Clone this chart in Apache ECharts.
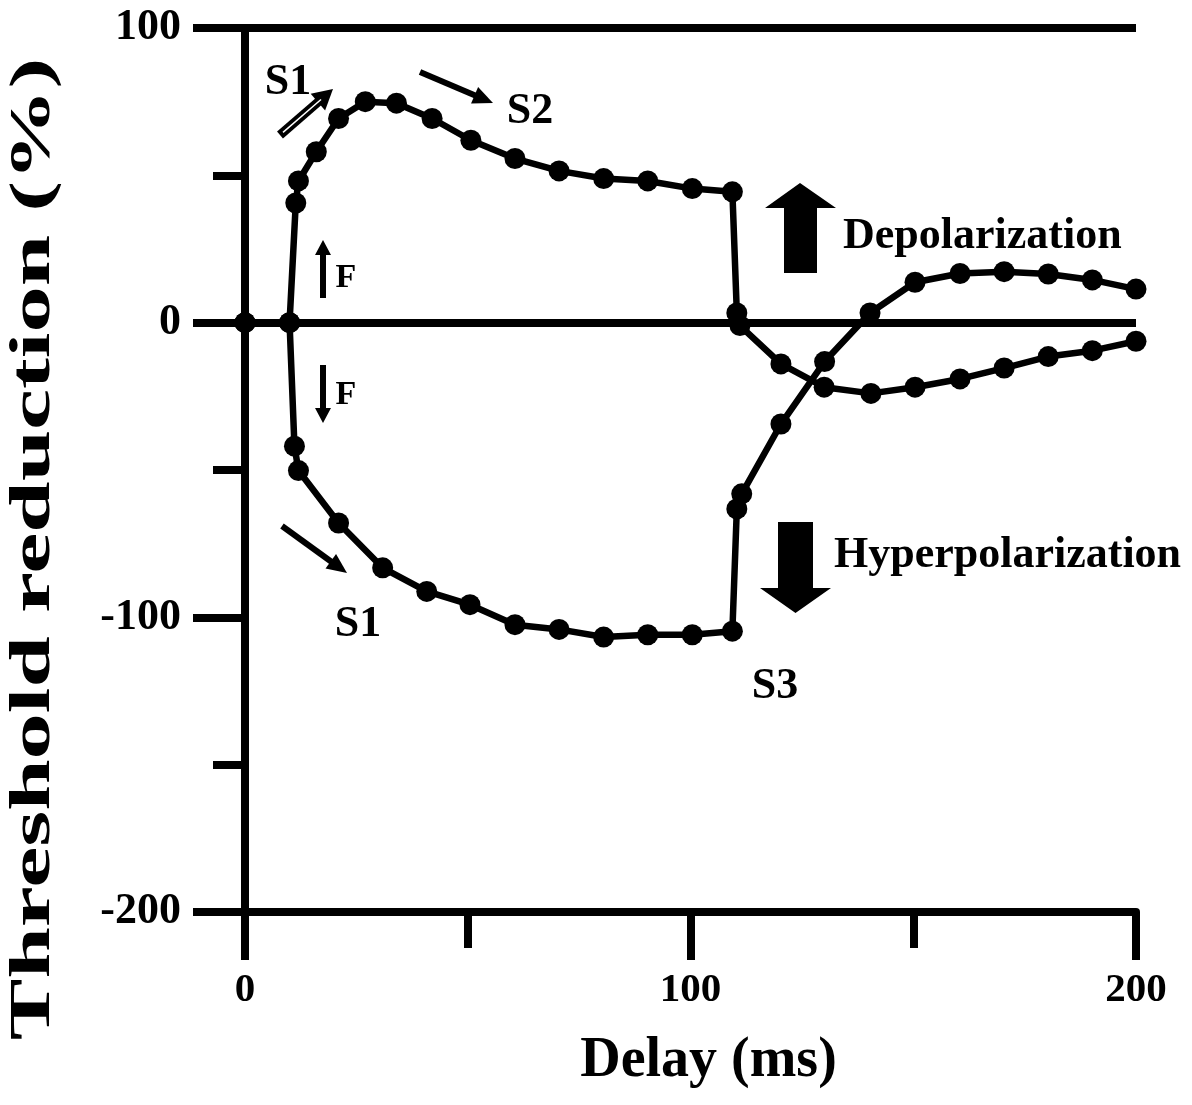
<!DOCTYPE html>
<html lang="en">
<head>
    <meta charset="UTF-8">
    <title>Threshold reduction</title>
    <script src="https://cdn.jsdelivr.net/npm/echarts@6/dist/echarts.min.js"></script>
    <style>
        html, body { margin: 0; padding: 0; background: #fff; }
    </style>
</head>
<body>
    <div id="box" style="width: 1192px; height: 1105px;"></div>
</body>
<script>
    // delay (ms) and threshold reduction (%)
    var upDelay = [0, 10, 11.4, 12, 16, 21, 27, 34, 42, 50.7, 60.6, 70.5, 80.5, 90.4, 100.4, 109.4,
        110.4, 111.1, 120.3, 130, 140.5, 150.4, 160.5, 170.4, 180.3, 190.2, 200]
    var upValue = [0, 0, 40.6, 48.1, 58, 69.3, 75, 74.5, 69.3, 61.9, 55.7, 51.5, 48.9, 48.1, 45.5, 44.4,
        3.3, -1, -14, -21.9, -24, -21.9, -19.1, -15.4, -11.5, -9.5, -6.3]
    var downDelay = [0, 10, 11.1, 12, 21, 30.9, 40.8, 50.5, 60.6, 70.5, 80.5, 90.4, 100.4, 109.4,
        110.4, 111.5, 120.3, 130.1, 140.3, 150.4, 160.5, 170.4, 180.3, 190.2, 200]
    var downValue = [0, 0, -41.9, -50.2, -68, -83.2, -91.2, -95.7, -102.5, -104.1, -106.7, -105.9, -105.9, -104.7,
        -63.2, -58.1, -34.4, -13.2, 3.3, 13.7, 16.7, 17.3, 16.5, 14.5, 11.4]
    var refLines = [100, 0]

    var font = '"Liberation Serif", "Times New Roman", serif'

    function pairs(xs, ys) {
        var out = []
        for (var i = 0; i < xs.length; i++) out.push([xs[i], ys[i]])
        return out
    }

    // thin arrow: shaft + triangular head
    function arrow(x1, y1, x2, y2, w, hl, hw) {
        var dx = x2 - x1, dy = y2 - y1
        var len = Math.sqrt(dx * dx + dy * dy)
        var ux = dx / len, uy = dy / len
        var nx = -uy, ny = ux
        var bx = x2 - ux * hl, by = y2 - uy * hl
        return [{
            type: 'line',
            shape: { x1: x1, y1: y1, x2: bx + ux * 2, y2: by + uy * 2 },
            style: { stroke: '#000', lineWidth: w }
        }, {
            type: 'polygon',
            shape: { points: [[x2, y2], [bx + nx * hw, by + ny * hw], [bx - nx * hw, by - ny * hw]] },
            style: { fill: '#000' }
        }]
    }

    function text(t, x, y, size, align) {
        return {
            type: 'text', x: x, y: y,
            style: {
                text: t, font: 'bold ' + size + 'px ' + font, fill: '#000',
                align: align || 'center', verticalAlign: 'middle'
            }
        }
    }

    // hollow arrow next to the upper S1
    var s1Hollow = arrow(280, 135, 333, 89, 9, 20, 11)
    s1Hollow.push({
        type: 'line',
        shape: { x1: 283, y1: 132.4, x2: 321, y2: 99.5 },
        style: { stroke: '#fff', lineWidth: 1.5 }
    })

    var shapes = []
        .concat(s1Hollow)
        .concat(arrow(420, 72, 493, 103, 6, 20, 9))
        .concat(arrow(282, 526, 347, 573, 6, 20, 9))
        .concat(arrow(323, 298, 323, 240, 6, 15, 8))
        .concat(arrow(323, 365, 323, 423, 6, 15, 8))
        .concat([{
            type: 'polygon',
            shape: { points: [[784, 273], [784, 208], [765, 208], [800, 183], [836, 208], [817, 208], [817, 273]] },
            style: { fill: '#000' }
        }, {
            type: 'polygon',
            shape: { points: [[778, 522], [813, 522], [813, 588], [831, 588], [795.5, 613], [760, 588], [778, 588]] },
            style: { fill: '#000' }
        }])
        .concat([
            text('S1', 288, 83, 44),
            text('S2', 530, 112, 44),
            text('S1', 358, 625, 44),
            text('S3', 775, 687, 44),
            text('F', 346, 278, 34),
            text('F', 346, 395, 34),
            text('Depolarization', 843, 237, 44, 'left'),
            text('Hyperpolarization', 834, 556, 44, 'left')
        ])

    // y-axis title, stretched along its baseline like the original
    shapes.push({
        type: 'text', x: 35, y: 549, rotation: Math.PI / 2, scaleX: 1.65,
        style: {
            text: 'Threshold reduction (%)', font: 'bold 56px ' + font, fill: '#000',
            align: 'center', verticalAlign: 'middle'
        }
    })

    var lineStyle = { color: '#000', width: 8 }

    var mEcharts = echarts.init(document.querySelector('#box'))
    var option = {
        animation: false,
        backgroundColor: '#fff',
        grid: { left: 245, right: 56, top: 28, bottom: 193 },
        xAxis: {
            type: 'value', min: 0, max: 200, interval: 100,
            name: 'Delay (ms)', nameLocation: 'middle', nameGap: 122,
            nameTextStyle: { fontFamily: font, fontWeight: 'bold', fontSize: 56, color: '#000', padding: [0, 0, 0, 36] },
            axisLine: { show: true, onZero: false, lineStyle: lineStyle },
            axisTick: { show: true, length: 48, lineStyle: lineStyle },
            minorTick: { show: true, splitNumber: 2, length: 36, lineStyle: lineStyle },
            splitLine: { show: false },
            axisLabel: { fontFamily: font, fontWeight: 'bold', fontSize: 41, color: '#000', margin: 58 }
        },
        yAxis: {
            type: 'value', min: -200, max: 100, interval: 100,
            axisLine: { show: true, onZero: false, lineStyle: lineStyle },
            axisTick: { show: true, length: 52, lineStyle: lineStyle },
            minorTick: { show: true, splitNumber: 2, length: 32, lineStyle: lineStyle },
            splitLine: { show: false },
            axisLabel: { fontFamily: font, fontWeight: 'bold', fontSize: 44, color: '#000', margin: 64 }
        },
        graphic: shapes,
        series: [{
            name: 'up',
            type: 'line',
            data: pairs(upDelay, upValue),
            symbol: 'circle', symbolSize: 21,
            lineStyle: { color: '#000', width: 6.5 },
            itemStyle: { color: '#000' },
            clip: false,
            markLine: {
                silent: true, symbol: 'none', label: { show: false },
                lineStyle: { color: '#000', width: 8, type: 'solid' },
                data: refLines.map(function (v) { return { yAxis: v } })
            }
        }, {
            name: 'down',
            type: 'line',
            data: pairs(downDelay, downValue),
            symbol: 'circle', symbolSize: 21,
            lineStyle: { color: '#000', width: 6.5 },
            itemStyle: { color: '#000' },
            clip: false
        }]
    }
    mEcharts.setOption(option)
</script>
</html>
